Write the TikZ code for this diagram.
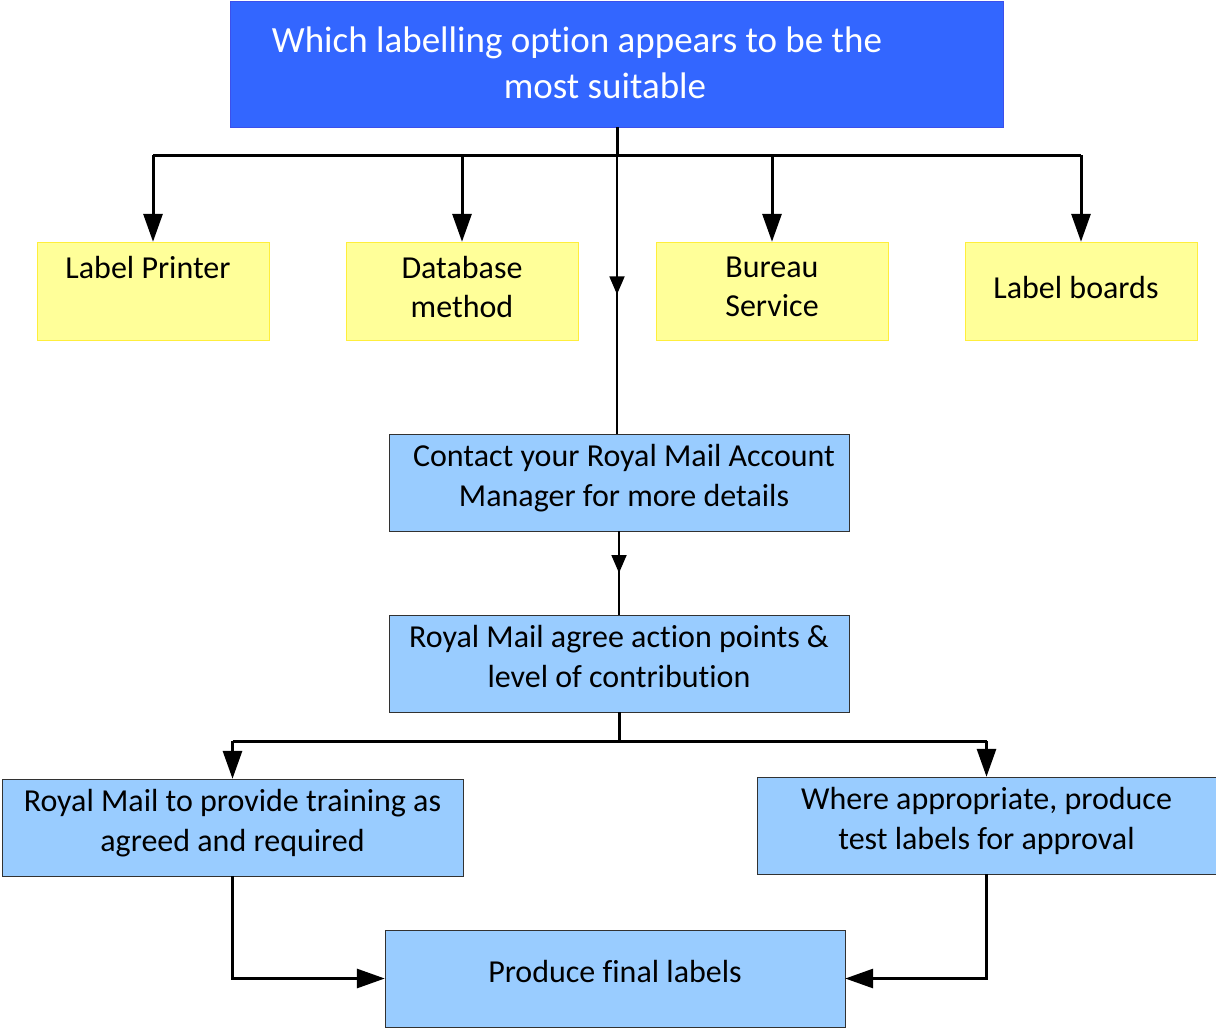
\documentclass[tikz,border=0pt]{standalone}
\usepackage{fontspec}
\setmainfont{Carlito}[Ligatures=NoCommon]
\usetikzlibrary{arrows.meta, positioning, decorations.markings}
\definecolor{TitleBlue}{RGB}{51, 102, 255}
\definecolor{TitleEdge}{RGB}{60, 80, 235}
\definecolor{OptionYellow}{RGB}{255, 255, 153}
\definecolor{OptionEdge}{RGB}{255, 238, 60}
\definecolor{StepBlue}{RGB}{153, 204, 255}
\definecolor{StepEdge}{RGB}{50, 50, 50}

\begin{document}
\begin{tikzpicture}[x=1pt, y=-1pt,
    choice/.style={draw=OptionEdge, fill=OptionYellow, rectangle, minimum width=232pt, minimum height=98pt, inner sep=0pt, align=center, text depth=8pt, font=\fontsize{32}{39}\selectfont},
    stepbox/.style={draw=StepEdge, fill=StepBlue, rectangle, minimum width=460pt, minimum height=97pt, inner sep=0pt, align=center, text depth=14pt, font=\fontsize{32}{40}\selectfont},
    bus/.style={line width=3pt},
    feed/.style={bus, -{Triangle[length=28pt, width=19pt]}},
    midflow/.style={line width=1.8pt, postaction={decorate}, decoration={markings, mark=at position 0.5 with {\arrow{Triangle[length=18pt, width=15pt]}}}}]
    \useasboundingbox (0,0) rectangle (1216,1029);
    % question on top
    \node[draw=TitleEdge, fill=TitleBlue, rectangle, minimum width=773pt, minimum height=126pt, inner sep=0pt] (question) at (617,64) {};
    \node[text=white, align=center, font=\fontsize{37}{46}\selectfont] (questiontext) at (605,63) {Which labelling option appears to be the\hspace*{56pt}\\most suitable};
    % the four options
    \node[choice] (printer) at (153,291) {Label Printer\hspace*{10pt}\\\mbox{}};
    \node[choice] (database) at (462,291) {Database\\method};
    \node[choice] (bureau) at (772,291) {Bureau\\Service};
    \node[choice] (boards) at (1081,291) {Label boards\hspace*{10pt}};
    % steps
    \node[stepbox] (contact) at (619,482.5) {\hspace*{10pt}Contact your Royal Mail Account\\\hspace*{10pt}Manager for more details};
    \node[stepbox] (agree) at (619,663.5) {Royal Mail agree action points \&\\level of contribution};
    \node[stepbox, minimum width=461pt] (training) at (232.5,827.5) {Royal Mail to provide training as\\agreed and required};
    \node[stepbox, minimum width=459pt] (testlabels) at (986.5,825.5) {Where appropriate, produce\\test labels for approval};
    \node[stepbox] (final) at (615,978.5) {Produce final labels};

    \coordinate (split) at (617,155);
    \coordinate (fork) at (619,741);
    \draw[bus] (question.south) -- (split);
    \draw[bus] (printer.north |- split) -- (boards.north |- split);
    \foreach \opt in {printer, database, bureau, boards}
        \draw[feed] (\opt.north |- split) -- (\opt.north);
    \draw[midflow] (split) -- (split |- contact.north);
    \draw[midflow] (contact.south) -- (agree.north);
    \draw[bus] (agree.south) -- (fork);
    \draw[bus] (training.north |- fork) -- (testlabels.north |- fork);
    \draw[feed] (training.north |- fork) -- (training.north);
    \draw[feed] (testlabels.north |- fork) -- (testlabels.north);
    \draw[feed] (training.south) |- (final.west);
    \draw[feed] (testlabels.south) |- (final.east);
\end{tikzpicture}
\end{document}
